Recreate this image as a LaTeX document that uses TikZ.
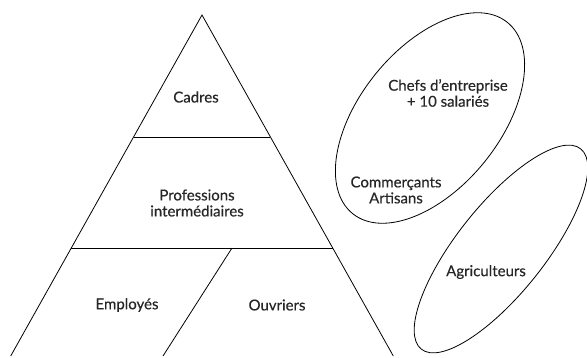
\documentclass[tikz,border=0pt]{standalone}
\usepackage{fontspec}
\setmainfont{Lato}[FakeBold=0.4]
\usetikzlibrary{shapes.geometric}

\begin{document}
\begin{tikzpicture}[x=1pt,y=-1pt,font=\fontsize{15}{16}\selectfont,
    lbl/.style={align=center,inner sep=0pt,text=black!85},
    every path/.style={line width=0.8pt}]

    \useasboundingbox (0,0) rectangle (587,358);

    \coordinate (A) at (202,15);
    \coordinate (L1) at (133.6,137);
    \coordinate (R1) at (270.4,137);
    \coordinate (L2) at (71,248);
    \coordinate (R2) at (333,248);
    \coordinate (M2) at (232,248);
    \coordinate (L3) at (10.7,356);
    \coordinate (R3) at (393.3,356);
    \coordinate (M3) at (163,356);

    \draw (L3) -- (A) -- (R3);
    \draw (L1) -- (R1);
    \draw (L2) -- (R2);
    \draw (M2) -- (M3);

    \node[lbl] (Cadres) at (196,97) {Cadres};
    \node[lbl] (Prof) at (197,203) {Professions\\interm\'ediaires};
    \node[lbl] (Empl) at (127,305) {Employ\'es};
    \node[lbl] (Ouvr) at (277,305) {Ouvriers};

    \coordinate (E1) at (430,118);
    \coordinate (E2) at (501,249);

    \begin{scope}[shift={(E1)},rotate=51]
        \draw (0,0) ellipse [x radius=123, y radius=70];
    \end{scope}
    \begin{scope}[shift={(E2)},rotate=51.5]
        \draw (0,0) ellipse [x radius=128, y radius=44];
    \end{scope}

    \node[lbl] (Chefs) at (448,93) {Chefs d'entreprise\\+ 10 salari\'es};
    \node[lbl] (Comm) at (396,190) {Commer\c{c}ants\\Artisans};
    \node[lbl] (Agri) at (486,272) {Agriculteurs};

\end{tikzpicture}
\end{document}
